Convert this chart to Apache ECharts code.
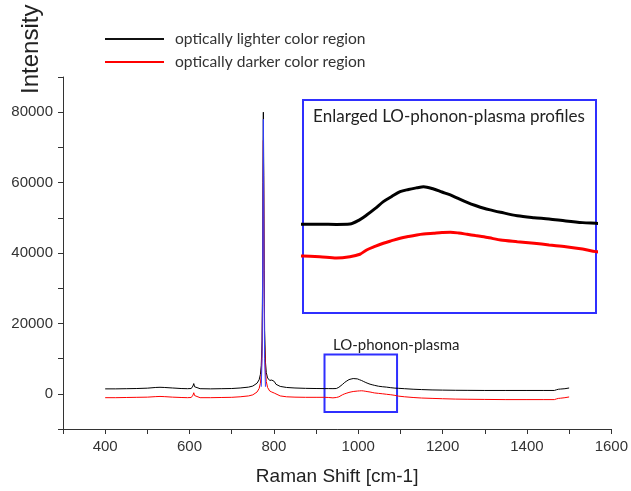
<!DOCTYPE html>
<html>
<head>
<meta charset="utf-8">
<script src="https://cdn.jsdelivr.net/npm/echarts@6/dist/echarts.min.js"></script>
<style>html,body{margin:0;padding:0;background:#fff;}#c{width:631px;height:491px;}</style>
</head>
<body>
<div id="c"></div>
<script>
// Raman shift (cm-1)
var shift = [400,425,450,475,500,520,530,540,560,580,595,604,608,610,612,616,625,650,675,700,720,740,750,760,765,768,770,772,773,774,775,776,777,778,780,782,785,790,795,798,801,805,815,830,850,875,900,920,930,940,948,954,958,963,968,973,978,983,988,992,998,1003,1008,1013,1018,1023,1028,1033,1038,1048,1058,1067,1077,1087,1095,1110,1130,1150,1175,1200,1230,1260,1300,1350,1400,1440,1465,1470,1475,1480,1490,1500];
// optically lighter color region (black)
var lighter = [1400,1400,1450,1500,1600,1800,1850,1800,1650,1500,1450,1500,2200,2900,2000,1500,1450,1400,1450,1500,1650,1900,2200,3000,4000,5500,8000,15000,30000,60000,80000,62000,35000,18000,9000,6000,4500,3800,3900,4300,3500,2700,2100,1800,1650,1550,1500,1480,1480,1470,1500,1850,2200,2700,3250,3650,4030,4200,4330,4420,4240,4000,3770,3480,3200,2950,2730,2570,2420,2150,2000,1900,1740,1610,1560,1450,1300,1200,1100,1050,1000,980,950,950,950,950,950,1150,1300,1350,1450,1650];
// optically darker color region (red)
var darker = [-1100,-1100,-1050,-1000,-950,-800,-750,-800,-950,-1050,-1100,-1050,-400,300,-500,-1050,-1100,-1100,-1050,-1000,-850,-600,-300,500,1500,3000,5500,12000,26000,52000,72000,55000,30000,14000,6500,3500,1800,800,500,700,200,-200,-600,-850,-950,-1000,-1000,-1000,-1050,-1150,-1050,-860,-525,-250,0,200,390,530,650,720,780,830,860,800,700,600,510,380,255,124,0,-135,-266,-447,-655,-850,-1050,-1200,-1300,-1400,-1500,-1550,-1600,-1650,-1650,-1650,-1650,-1450,-1300,-1250,-1100,-900];
// third (blue) trace visible only inside the main peak
var peakShift = [770,772,773,774,775,776,777,778,780];
var peakBlue  = [2000,10000,25000,55000,78000,50000,25000,10000,2000];
// LO-phonon-plasma box (x range, y range)
var boxX = [920, 1092];
var boxY = [-5200, 11200];
// axis ranges
var xRange = [300, 1600];
var yRange = [-10000, 90000];
var insetX = [920, 1095];
var insetY = [-5450, 11190];

function pairs(xs, ys){ return xs.map(function(x,i){ return [x, ys[i]]; }); }

var NAME_L = 'optically lighter color region';
var NAME_D = 'optically darker color region';
var BLUE = '#2f2fff';
var chart = echarts.init(document.getElementById('c'), null, {renderer:'canvas'});
chart.setOption({
  animation: false,
  backgroundColor: '#fff',
  legend: {
    data: [NAME_L, NAME_D],
    orient: 'vertical', left: 100, top: 26,
    icon: 'rect', itemWidth: 59, itemHeight: 2, itemGap: 7,
    textStyle: {fontFamily: 'Lato', fontSize: 15.6, color: '#333', lineHeight: 15, padding: [0,0,0,6]}
  },
  grid: [
    {left: 63, top: 77, width: 553, height: 355, show: false},
    {left: 303, top: 100, width: 293, height: 213, show: true, borderColor: BLUE, borderWidth: 2, backgroundColor: '#fff', z: 5}
  ],
  xAxis: [
    {type: 'value', gridIndex: 0, min: xRange[0], max: xRange[1], interval: 100,
     name: 'Raman Shift [cm-1]', nameLocation: 'middle', nameGap: 38,
     nameTextStyle: {fontFamily: 'Liberation Sans', fontSize: 19, color: '#222'},
     axisLine: {onZero: false, lineStyle: {color: '#333', width: 1}},
     axisTick: {length: 5, lineStyle: {color: '#333'}},
     splitLine: {show: false},
     axisLabel: {margin: 10, fontFamily: 'Liberation Sans', fontSize: 15, color: '#333',
       formatter: function(v){ return (v % 200 === 0) ? String(v) : ''; }}},
    {type: 'value', gridIndex: 1, min: insetX[0], max: insetX[1], show: false}
  ],
  yAxis: [
    {type: 'value', gridIndex: 0, min: yRange[0], max: yRange[1], interval: 10000,
     axisLine: {show: true, lineStyle: {color: '#333', width: 1}},
     axisTick: {show: true, length: 5, lineStyle: {color: '#333'}},
     splitLine: {show: false},
     axisLabel: {margin: 10, fontFamily: 'Liberation Sans', fontSize: 15, color: '#333',
       formatter: function(v){ return (v % 20000 === 0 && v >= 0 && v <= 80000) ? String(v) : ''; }}},
    {type: 'value', gridIndex: 1, min: insetY[0], max: insetY[1], show: false}
  ],
  graphic: [
    {type: 'text', x: 31, y: 94, rotation: Math.PI/2, z: 10,
     style: {text: 'Intensity', font: '24px "Liberation Sans"', fill: '#222', textAlign: 'left', textVerticalAlign: 'middle'}},
    {type: 'text', x: 333, y: 345, z: 10,
     style: {text: 'LO-phonon-plasma', font: '15px Lato', fill: '#222', textAlign: 'left', textVerticalAlign: 'middle'}},
    {type: 'text', x: 449, y: 117, z: 20,
     style: {text: 'Enlarged LO-phonon-plasma profiles', font: '17px Lato', fill: '#222', textAlign: 'center', textVerticalAlign: 'middle'}}
  ],
  series: [
    {name: NAME_L, type: 'line', xAxisIndex: 0, yAxisIndex: 0, data: pairs(shift, lighter),
     showSymbol: false, lineStyle: {color: '#000', width: 1}, itemStyle: {color: '#111'}, z: 2},
    {name: NAME_D, type: 'line', xAxisIndex: 0, yAxisIndex: 0, data: pairs(shift, darker),
     showSymbol: false, lineStyle: {color: '#ff0000', width: 1}, itemStyle: {color: '#ff0000'}, z: 3,
     markArea: {silent: true, itemStyle: {color: 'rgba(0,0,0,0)', borderColor: BLUE, borderWidth: 2},
       data: [[{coord: [boxX[0], boxY[1]]}, {coord: [boxX[1], boxY[0]]}]]}},
    {name: 'peak', type: 'line', xAxisIndex: 0, yAxisIndex: 0, data: pairs(peakShift, peakBlue),
     showSymbol: false, lineStyle: {color: '#3040ff', width: 1}, z: 4},
    {name: NAME_L, type: 'line', xAxisIndex: 1, yAxisIndex: 1, data: pairs(shift, lighter),
     showSymbol: false, smooth: 0.3, lineStyle: {color: '#000', width: 3}, z: 6},
    {name: NAME_D, type: 'line', xAxisIndex: 1, yAxisIndex: 1, data: pairs(shift, darker),
     showSymbol: false, smooth: 0.3, lineStyle: {color: '#ff0000', width: 3}, z: 6}
  ]
});
</script>
</body>
</html>
